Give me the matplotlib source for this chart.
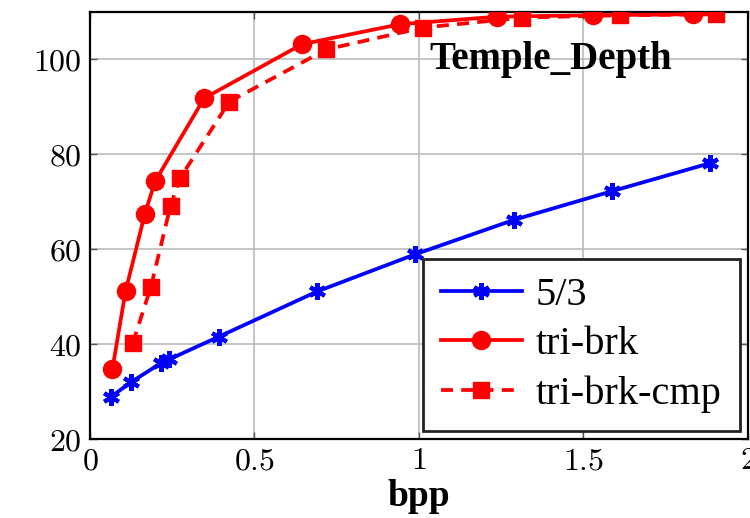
import matplotlib
matplotlib.use('Agg')
import matplotlib.pyplot as plt

plt.rcParams['font.family'] = ['Liberation Serif', 'DejaVu Serif']
plt.rcParams['mathtext.fontset'] = 'cm'

# data
bpp_53 = [0.064, 0.125, 0.216, 0.241, 0.393, 0.691, 0.988, 1.29, 1.586, 1.884]
psnr_53 = [28.9, 32.0, 36.0, 36.8, 41.6, 51.1, 58.9, 66.2, 72.2, 78.1]

bpp_brk = [0.068, 0.108, 0.167, 0.198, 0.347, 0.645, 0.942, 1.239, 1.528, 1.834]
psnr_brk = [34.7, 51.1, 67.5, 74.3, 91.8, 103.2, 107.4, 109.0, 109.3, 109.5]

bpp_cmp = [0.130, 0.185, 0.245, 0.274, 0.424, 0.719, 1.013, 1.315, 1.611, 1.903]
psnr_cmp = [40.2, 52.0, 69.2, 75.0, 91.1, 102.1, 106.7, 108.8, 109.3, 109.5]

xticks = [0, 0.5, 1, 1.5, 2]
xtick_labels = ['$0$', '$0.5$', '$1$', '$1.5$', '$2$']
yticks = [20, 40, 60, 80, 100]
ytick_labels = ['$20$', '$40$', '$60$', '$80$', '$100$']

fig = plt.figure(figsize=(7.5, 5.18), dpi=100)
ax = fig.add_axes([0.12, 0.1525, 0.877, 0.8245])

ax.plot(bpp_53, psnr_53, color='blue', linewidth=2.7, marker=(6, 2, 0),
        markersize=12, markeredgewidth=3, label='5/3', zorder=3)
ax.plot(bpp_brk, psnr_brk, color='red', linewidth=2.7, marker='o',
        markersize=13, label='tri-brk', zorder=3)
ax.plot(bpp_cmp, psnr_cmp, color='red', linewidth=2.7, linestyle=(0, (3.2, 2.2)),
        marker='s', markersize=12, label='tri-brk-cmp', zorder=3)

ax.set_xlim(0, 2)
ax.set_ylim(20, 110)
ax.set_xticks(xticks)
ax.set_xticklabels(xtick_labels)
ax.set_yticks(yticks)
ax.set_yticklabels(ytick_labels)
ax.tick_params(direction='in', length=5, width=1, color='#555555',
               labelsize=23, top=True, right=True, pad=6)
ax.grid(True, color='#bbbbbb', linewidth=1.2)
ax.set_axisbelow(True)
for s in ax.spines.values():
    s.set_linewidth(1.6)

ax.set_xlabel('bpp', fontsize=27, fontweight='bold', labelpad=2)

ax.text(0.70, 0.888, 'Temple_Depth', transform=ax.transAxes, fontsize=28,
        fontweight='bold', ha='center', va='center', zorder=4)

leg = ax.legend(loc='lower right', fontsize=29, frameon=True, fancybox=False,
                edgecolor='#222222', framealpha=1, borderaxespad=0.2,
                handlelength=2.0, handletextpad=0.35, labelspacing=0.3,
                borderpad=0.45)
leg.get_frame().set_linewidth(2)

fig.savefig('out.png', dpi=100)
